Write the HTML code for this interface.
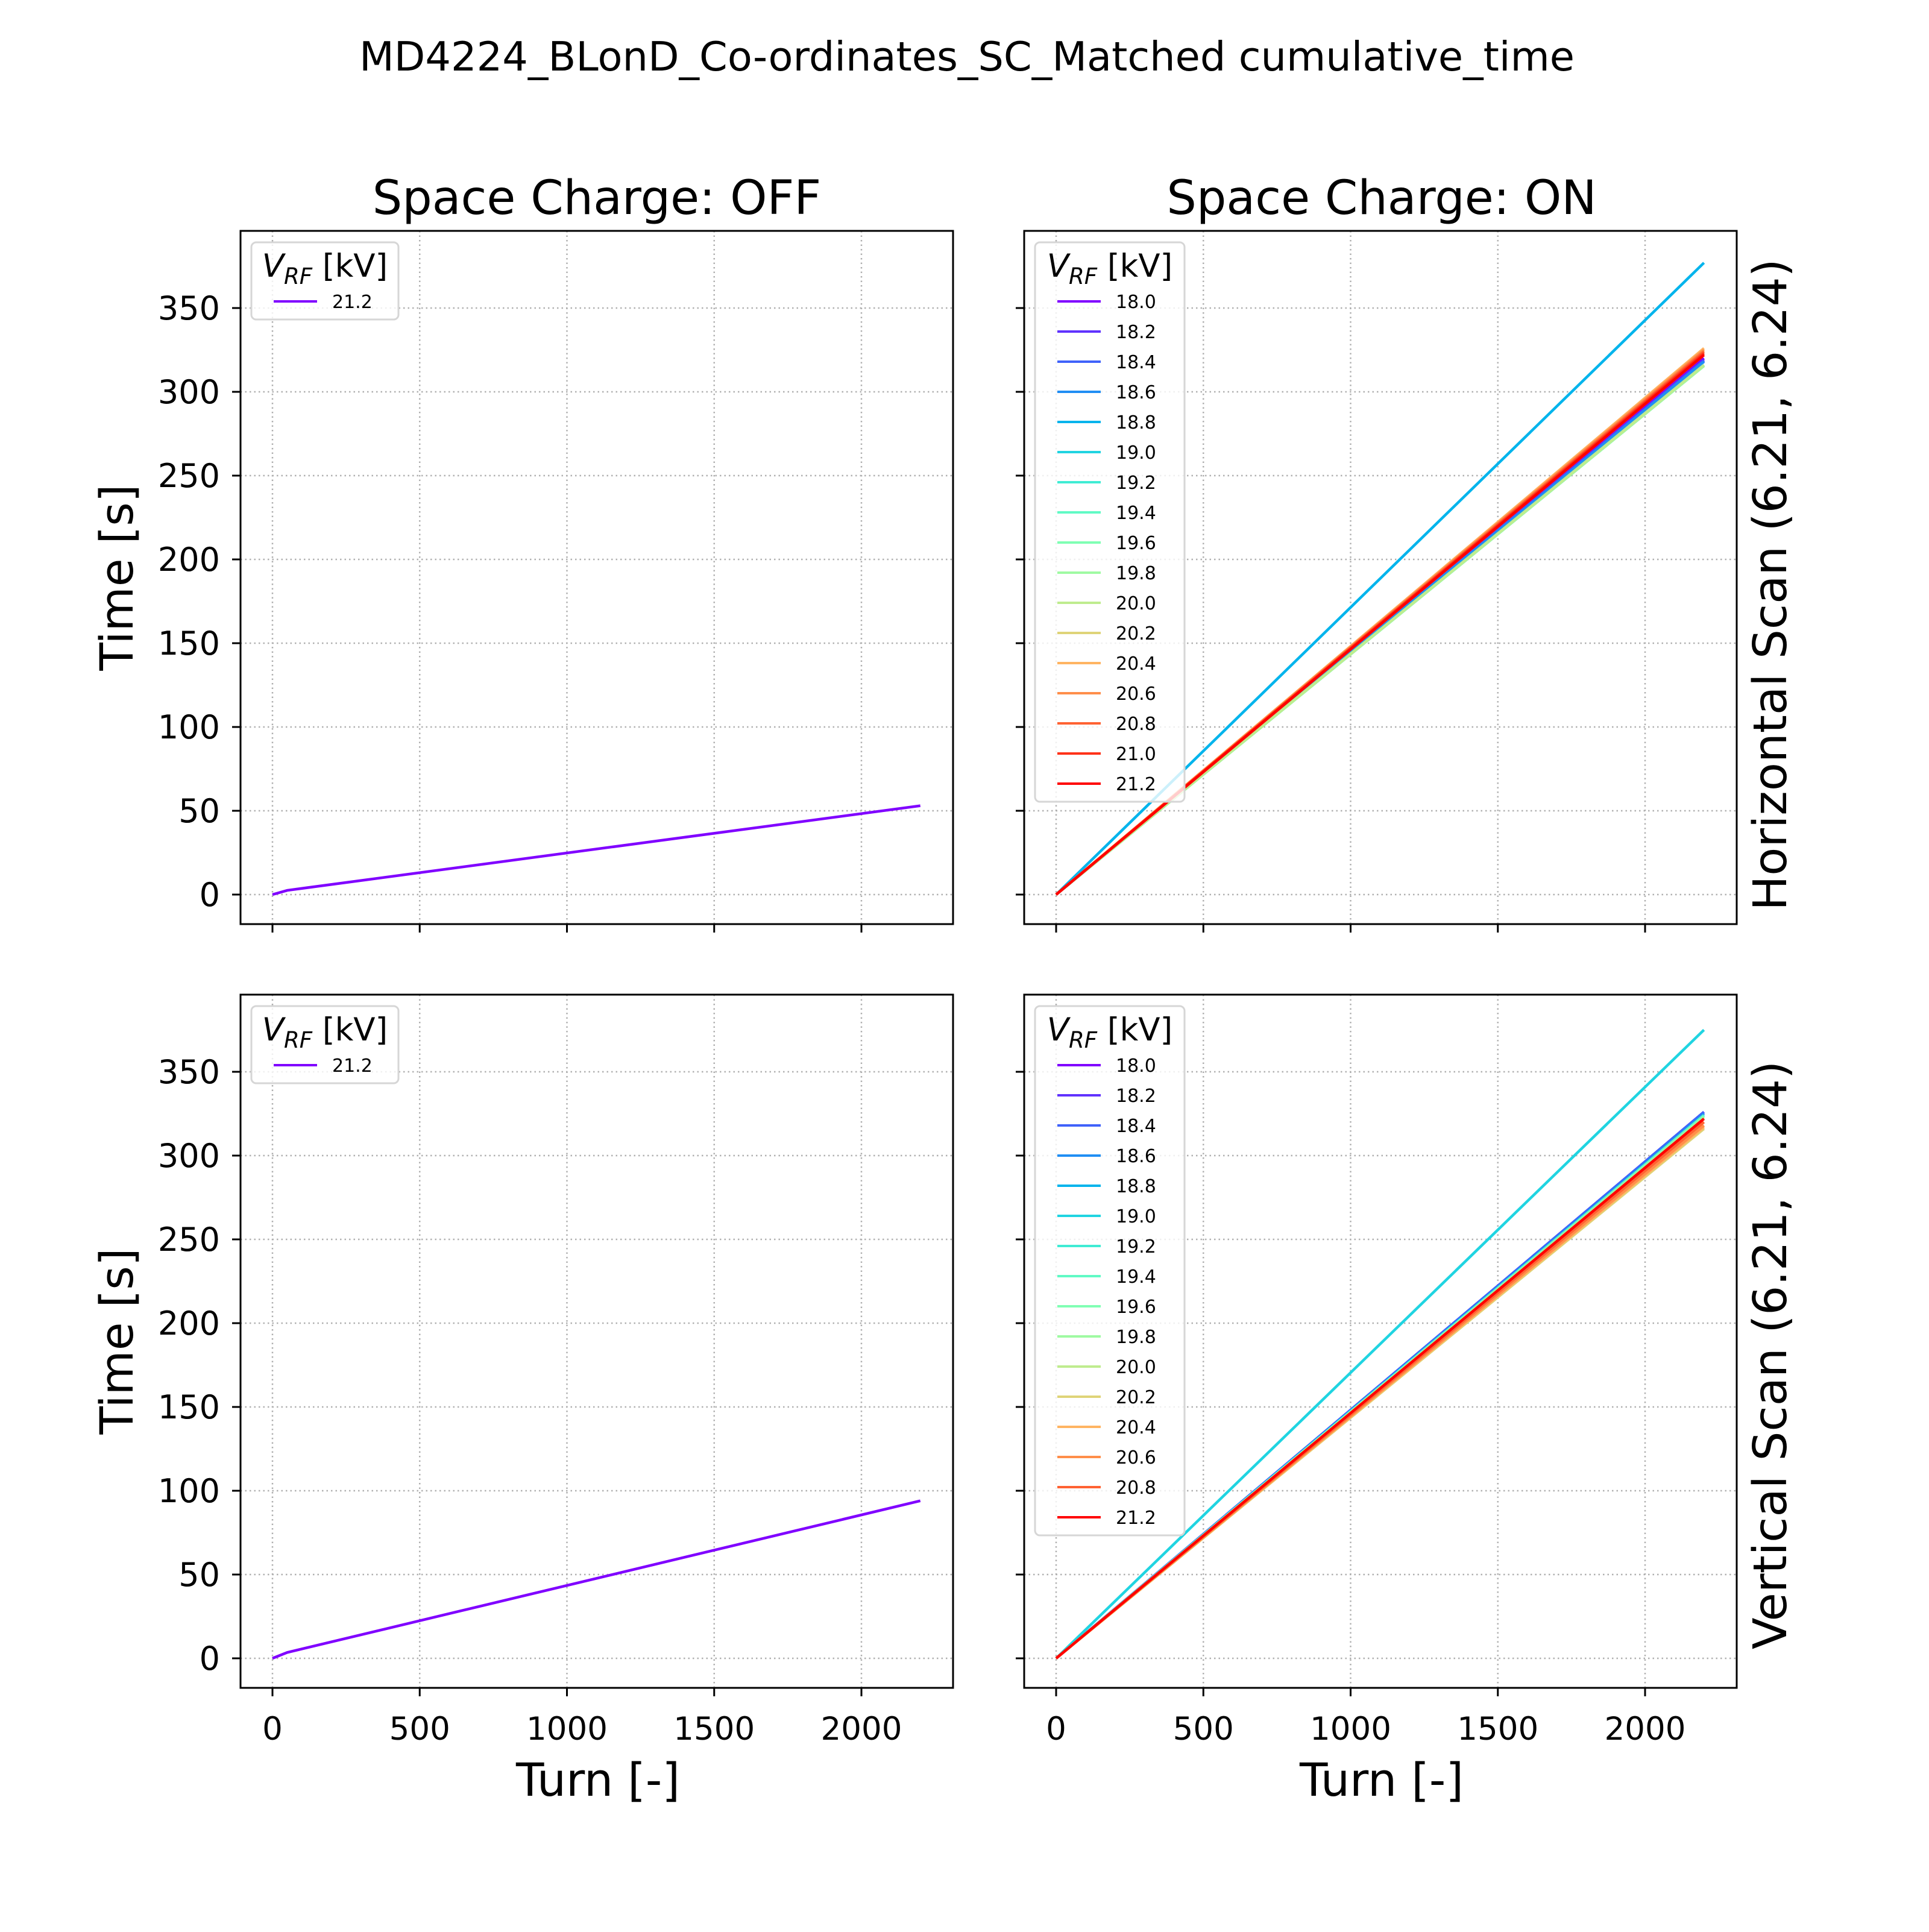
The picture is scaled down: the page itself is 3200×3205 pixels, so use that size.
<!DOCTYPE html>
<html><head><meta charset="utf-8"><style>
body{margin:0;background:#fff}
svg{font-family:"DejaVu Sans","Liberation Sans",sans-serif}
</style></head><body>
<svg id="fig" width="3200" height="3200" viewBox="0 0 3200 3200" xmlns="http://www.w3.org/2000/svg">
<rect width="3200" height="3200" fill="#fff"/>
<text x="1604" y="117" font-size="67" text-anchor="middle">MD4224_BLonD_Co-ordinates_SC_Matched cumulative_time</text>
<g id="root"></g>
</svg>
<script>
const turnTicks=[0,500,1000,1500,2000];
const timeTicks=[0,50,100,150,200,250,300,350];
const offLabels=["21.2"];
const offTopEnd=[53];
const offTopKink=[2.5];
const offBotEnd=[94];
const offBotKink=[3.5];
const onTopLabels=["18.0","18.2","18.4","18.6","18.8","19.0","19.2","19.4","19.6","19.8","20.0","20.2","20.4","20.6","20.8","21.0","21.2"];
const onTopEnd=[320,319,318.5,318,377,316,315.5,315.5,315.5,315.5,316,322,326,325,324,323,322];
const onBotLabels=["18.0","18.2","18.4","18.6","18.8","19.0","19.2","19.4","19.6","19.8","20.0","20.2","20.4","20.6","20.8","21.2"];
const onBotEnd=[326,326,326,325,324,375,324,324,323,323,322,316,317,318,320,322];
const turnMax=2200;

const NS="http://www.w3.org/2000/svg";
const root=document.getElementById('root');
function mk(tag,attrs,parent){const e=document.createElementNS(NS,tag);for(const k in attrs)e.setAttribute(k,attrs[k]);(parent||root).appendChild(e);return e;}
function rainbow(x){const r=Math.min(1,Math.abs(2*x-0.5)),g=Math.sin(Math.PI*x),b=Math.cos(Math.PI*x/2);return `rgb(${Math.round(r*255)},${Math.round(g*255)},${Math.round(b*255)})`;}
function colorFor(lbl){const i=onTopLabels.indexOf(lbl);return rainbow(i/(onTopLabels.length-1));}

const panels=[
 {id:'top-left',L:399,T:383,showX:false,showY:true},
 {id:'top-right',L:1699,T:383,showX:false,showY:false},
 {id:'bottom-left',L:399,T:1650,showX:true,showY:true},
 {id:'bottom-right',L:1699,T:1650,showX:true,showY:false}];
const W=1182,H=1150;
function xs(p,t){return p.L+53+t*977/2000;}
function ys(p,v){return p.T+1101-v*2.78;}

panels.forEach((p,pi)=>{
 const g=mk('g',{});
 
 
 turnTicks.forEach(t=>{const l=mk('line',{x1:xs(p,t),x2:xs(p,t),y1:p.T,y2:p.T+H,stroke:'#b0b0b0','stroke-width':2.5,'stroke-dasharray':'2.5,5'},g);
  
  const tk=mk('line',{x1:xs(p,t),x2:xs(p,t),y1:p.T+H,y2:p.T+H+14,stroke:'#000','stroke-width':3},g);
  
  if(p.showX){const tx=mk('text',{x:xs(p,t),y:p.T+H+86,'font-size':53,'text-anchor':'middle'},g);tx.textContent=t;
   }
 });
 timeTicks.forEach(v=>{const l=mk('line',{x1:p.L,x2:p.L+W,y1:ys(p,v),y2:ys(p,v),stroke:'#b0b0b0','stroke-width':2.5,'stroke-dasharray':'2.5,5'},g);
  
  const tk=mk('line',{x1:p.L-14,x2:p.L,y1:ys(p,v),y2:ys(p,v),stroke:'#000','stroke-width':3},g);
  
  if(p.showY){const tx=mk('text',{x:p.L-34,y:ys(p,v)+19,'font-size':54,'text-anchor':'end'},g);tx.textContent=v;
   }
 });
 let labels,ends,kinks=null;
 if(pi===0){labels=offLabels;ends=offTopEnd;kinks=offTopKink;}
 else if(pi===2){labels=offLabels;ends=offBotEnd;kinks=offBotKink;}
 else if(pi===1){labels=onTopLabels;ends=onTopEnd;}
 else {labels=onBotLabels;ends=onBotEnd;}
 labels.forEach((lb,i)=>{
  const c=kinks?rainbow(0):colorFor(lb);
  let pts=kinks?[[0,0],[50,kinks[i]],[turnMax,ends[i]]]:[[0,0],[turnMax,ends[i]]];
  const pl=mk('polyline',{points:pts.map(q=>xs(p,q[0])+','+ys(p,q[1])).join(' '),fill:'none',stroke:c,'stroke-width':4.5},g);
  
 });
 const sp=mk('rect',{x:p.L,y:p.T,width:W,height:H,fill:'none',stroke:'#000','stroke-width':3},g);
 
 const lg=mk('g',{},g);
 
 const lx=p.L+18, ly=p.T+19, lw=kinks?244:248, lh=kinks?128:50*labels.length+78;
 mk('rect',{x:lx,y:ly,width:lw,height:lh,rx:8,fill:'#fff','fill-opacity':0.8,stroke:'#d6d6d6','stroke-width':3},lg);
 const tt=mk('text',{x:lx+lw/2,y:ly+57,'font-size':53,'text-anchor':'middle'},lg);
 tt.innerHTML='<tspan font-style="italic">V</tspan><tspan font-style="italic" font-size="37" dy="12">RF</tspan><tspan dy="-12"> [kV]</tspan>';
 
 labels.forEach((lb,i)=>{
  const yy=ly+98+i*50;
  const c=kinks?rainbow(0):colorFor(lb);
  mk('line',{x1:lx+37,x2:lx+109,y1:yy,y2:yy,stroke:c,'stroke-width':4},lg);
  const t=mk('text',{x:lx+134,y:yy+11,'font-size':30},lg);t.textContent=lb;
  
 });
});
function txt(s,x,y,size,name,rot){const t=mk('text',{x:x,y:y,'font-size':size,'text-anchor':'middle'});if(rot)t.setAttribute('transform',`rotate(-90 ${x} ${y})`);t.textContent=s;
 }
txt('Space Charge: OFF',990,355,78,'left-column-title');
txt('Space Charge: ON',2292,355,78,'right-column-title');
txt('Time [s]',220,958,76,'y-axis-title-top',true);
txt('Time [s]',220,2225,76,'y-axis-title-bottom',true);
txt('Turn [-]',992,2979,76,'x-axis-title-left');
txt('Turn [-]',2292,2979,76,'x-axis-title-right');
txt('Horizontal Scan (6.21, 6.24)',2963,970,77,'row-label-horizontal',true);
txt('Vertical Scan (6.21, 6.24)',2963,2248,77,'row-label-vertical',true);
</script>
</body></html>
